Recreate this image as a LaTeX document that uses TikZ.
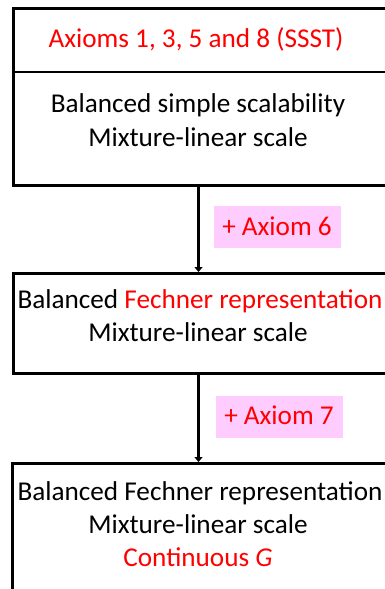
\documentclass[tikz,border=0pt]{standalone}
\usepackage{fontspec}
\setmainfont{Carlito}
\usetikzlibrary{arrows.meta}
\definecolor{axred}{RGB}{255,0,0}
\definecolor{axpink}{RGB}{255,204,255}
\begin{document}
\begin{tikzpicture}[x=1pt,y=-1pt,
  box/.style={draw=black,line width=3pt,inner sep=0pt,anchor=north west},
  divider/.style={draw=black,line width=2.4pt},
  txt/.style={anchor=base,inner sep=0pt,font=\fontsize{27.2}{32}\selectfont},
  tag/.style={fill=axpink,inner sep=0pt,anchor=north west},
  conn/.style={draw=black,line width=3pt,-{Triangle[length=5pt,width=8pt]}}]
\useasboundingbox (0,0) rectangle (385,589);
\clip (0,0) rectangle (385,589);
% box 1
\node[box,minimum width=395pt,minimum height=177pt] (b1) at (12,7) {};
\coordinate (d1l) at (12,72);
\coordinate (d1r) at (410,72);
\draw[divider] (d1l) -- (d1r);
\node[txt,text=axred] (t1) at (196,47) {Axioms 1, 3, 5 and 8 (SSST)};
\node[txt] (t2) at (198,112) {Balanced simple scalability};
\node[txt] (t3) at (198,146) {Mixture-linear scale};
% box 2
\node[box,minimum width=395pt,minimum height=100pt] (b2) at (12,272) {};
\node[txt] (t4) at (200,308) {Balanced \textcolor{axred}{Fechner representation}};
\node[txt] (t5) at (198,341) {Mixture-linear scale};
% box 3
\node[box,minimum width=395pt,minimum height=128.5pt] (b3) at (11,462) {};
\node[txt] (t6) at (200,500) {Balanced Fechner representation};
\node[txt] (t7) at (198,533) {Mixture-linear scale};
\node[txt,text=axred] (t8) at (198,566) {Continuous \textit{G}};
% tags
\node[tag,minimum width=127pt,minimum height=42pt] (g1) at (214,206) {};
\node[txt,text=axred] (g1t) at (277,235) {+ Axiom 6};
\node[tag,minimum width=127pt,minimum height=42pt] (g2) at (216,396) {};
\node[txt,text=axred] (g2t) at (279,424) {+ Axiom 7};
% connectors
\coordinate (a1s) at (198.5,184);
\coordinate (a1e) at (198.5,272);
\coordinate (a2s) at (198.5,372);
\coordinate (a2e) at (198.5,462);
\draw[conn] (a1s) -- (a1e);
\draw[conn] (a2s) -- (a2e);
\end{tikzpicture}
\end{document}
